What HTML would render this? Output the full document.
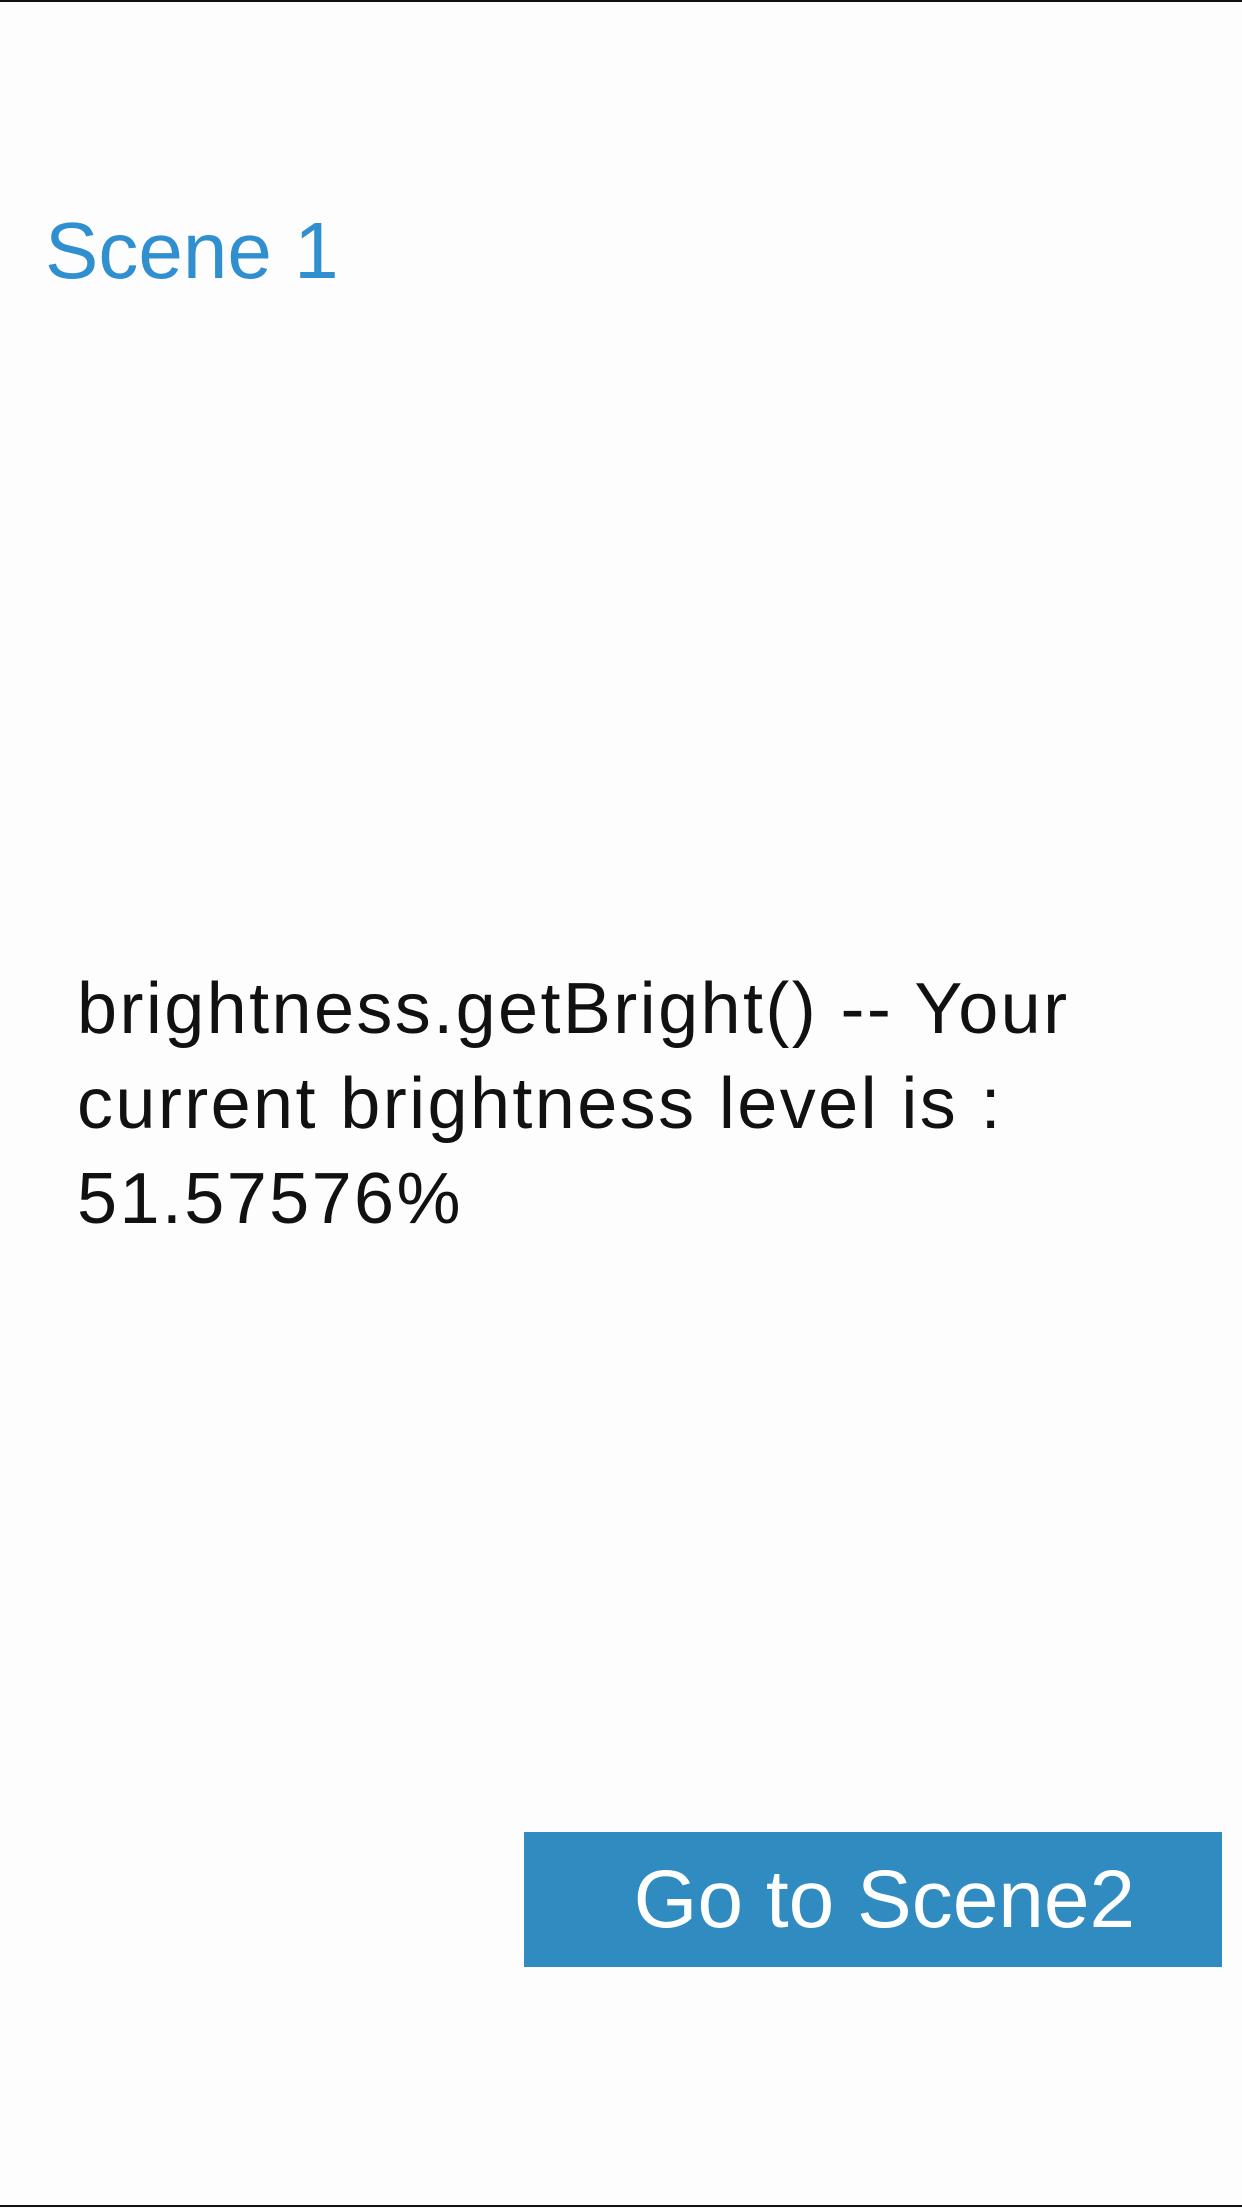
<!DOCTYPE html>
<html><head><meta charset="utf-8"><style>
html,body{margin:0;padding:0;background:#fdfdfd;}
body{width:1242px;height:2208px;position:relative;overflow:hidden;font-family:"Liberation Sans",sans-serif;}
.line{position:absolute;left:0;width:1242px;height:2px;background:#111;}
#title{position:absolute;left:45px;top:201px;font-size:80px;color:#2f8fcf;line-height:100px;}
#msg{position:absolute;left:77px;top:962px;font-size:72px;letter-spacing:2.4px;color:#111;line-height:95px;width:1150px;}
#btn{position:absolute;left:524px;top:1832px;width:698px;height:135px;background:#2f8bc0;color:#fff;font-size:82px;line-height:135px;text-align:center;}
</style></head><body>
<div class="line" style="top:0"></div>
<div id="title">Scene 1</div>
<div id="msg">brightness.getBright() -- Your<br>current brightness level is :<br>51.57576%</div>
<div id="btn">&nbsp;Go to Scene2</div>
<div class="line" style="top:2205px"></div>
</body></html>
